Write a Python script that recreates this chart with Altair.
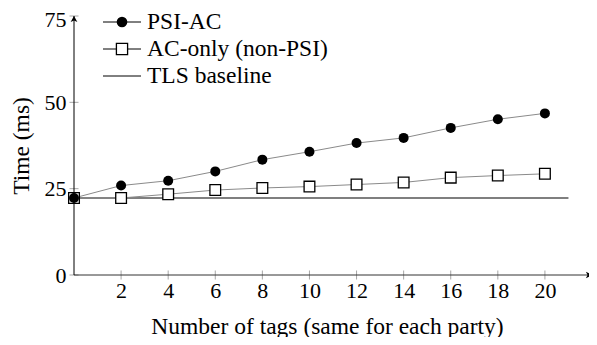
import altair as alt
import pandas as pd

# ---- data ----
tags = [0, 2, 4, 6, 8, 10, 12, 14, 16, 18, 20]
psi_ac = [22.3, 25.9, 27.3, 30.0, 33.4, 35.7, 38.2, 39.7, 42.6, 45.1, 46.8]
ac_only = [22.3, 22.3, 23.4, 24.6, 25.2, 25.6, 26.2, 26.8, 28.2, 28.8, 29.3]
tls_x = [0, 21]
tls_y = [22.3, 22.3]
x_ticks = [2, 4, 6, 8, 10, 12, 14, 16, 18, 20]
y_ticks = [0, 25, 50, 75]
series_names = ["PSI-AC", "AC-only (non-PSI)", "TLS baseline"]
x_title = "Number of tags (same for each party)"
y_title = "Time (ms)"

FONT = "Liberation Serif"
LEGEND_FONT = "Liberation Serif, Times New Roman, serif"
FS_LABEL = 22
FS_TEXT = 23.5
LINE_GRAY = "#8a8a8a"

xs = alt.Scale(domain=[0, 22], range=[0, 518], nice=False, zero=False)
ys = alt.Scale(domain=[0, 75], nice=False, zero=False)

X_AXIS = alt.Axis(values=x_ticks, ticks=False, domain=False, grid=False,
                  labelPadding=5, titlePadding=13, format="d",
                  titleX=253, titleAnchor="middle")
Y_AXIS = alt.Axis(values=y_ticks, ticks=False, domain=False, grid=False,
                  labelPadding=8, titlePadding=11, format="d",
                  labelOffset={"condition": {"test": "datum.value == 75", "value": 3},
                               "value": 0})

psi_df = pd.DataFrame({"tags": tags, "time": psi_ac})
ac_df = pd.DataFrame({"tags": tags, "time": ac_only})
tls_df = pd.DataFrame({"tags": tls_x, "time": tls_y})
xt_df = pd.DataFrame({"tags": x_ticks})
yt_df = pd.DataFrame({"time": y_ticks})


def X(field="tags"):
    return alt.X(f"{field}:Q", scale=xs, axis=X_AXIS, title=x_title)


def Y(field="time"):
    return alt.Y(f"{field}:Q", scale=ys, axis=Y_AXIS, title=y_title)


def XD(v):
    return alt.XDatum(v, scale=xs, axis=X_AXIS, title=x_title)


def YD(v):
    return alt.YDatum(v, scale=ys, axis=Y_AXIS, title=y_title)


one = psi_df.head(1)

# axis lines
x_line = alt.Chart(one).mark_rule(color="#333333", strokeWidth=1).encode(
    x=XD(0), x2=alt.X2Datum(22), y=YD(0))
y_line = alt.Chart(one).mark_rule(color="black", strokeWidth=1).encode(
    x=XD(0), y=YD(0), y2=alt.Y2Datum(75))

# arrow heads
arrow_r = "M0,0 L-1,-0.55 L-0.72,0 L-1,0.55 Z"
arrow_u = "M0,0 L-0.55,1 L0,0.72 L0.55,1 Z"
x_arrow = alt.Chart(one).mark_point(shape=arrow_r, filled=True, size=150,
                                    color="black", opacity=1).encode(x=XD(22), y=YD(0))
y_arrow = alt.Chart(one).mark_point(shape=arrow_u, filled=True, size=150,
                                    color="black", opacity=1).encode(x=XD(0), y=YD(75))

# tick marks crossing the axes
x_tickmarks = alt.Chart(xt_df).mark_tick(orient="vertical", size=9, thickness=1,
                                         color="#808080").encode(x=X(), y=YD(0))
y_tickmarks = alt.Chart(yt_df).mark_tick(orient="horizontal", size=9, thickness=1,
                                         color="#808080").encode(y=Y(), x=XD(0))

# series
tls_line = alt.Chart(tls_df).mark_line(color="black", strokeWidth=1.2).encode(x=X(), y=Y())
ac_line = alt.Chart(ac_df).mark_line(color=LINE_GRAY, strokeWidth=1).encode(x=X(), y=Y())
psi_line = alt.Chart(psi_df).mark_line(color=LINE_GRAY, strokeWidth=1).encode(x=X(), y=Y())
ac_pts = alt.Chart(ac_df).mark_point(shape="square", size=115, filled=False,
                                     fill="white", stroke="black", strokeWidth=1.3,
                                     opacity=1).encode(x=X(), y=Y())
psi_pts = alt.Chart(psi_df).mark_point(shape="circle", size=100, filled=True,
                                       color="black", opacity=1).encode(x=X(), y=Y())

# legend (manual, top-left inside the plot)
legend_layers = []
row_y = [6, 33, 60]
for i, name in enumerate(series_names):
    d = alt.Data(values=[{"label": name}])
    legend_layers.append(alt.Chart(d).mark_rule(color="black", strokeWidth=1).encode(
        x=alt.value(29), x2=alt.value(67), y=alt.value(row_y[i])))
    if i == 0:
        legend_layers.append(alt.Chart(d).mark_point(
            shape="circle", size=113, filled=True, color="black", opacity=1).encode(
            x=alt.value(48), y=alt.value(row_y[i])))
    elif i == 1:
        legend_layers.append(alt.Chart(d).mark_point(
            shape="square", size=125, filled=False, fill="white", stroke="black",
            strokeWidth=1.3, opacity=1).encode(x=alt.value(48), y=alt.value(row_y[i])))
    legend_layers.append(alt.Chart(d).mark_text(
        align="left", baseline="middle", font=LEGEND_FONT, fontSize=FS_TEXT,
        fontStyle="normal", fontWeight="normal", color="black").encode(
        x=alt.value(73), y=alt.value(row_y[i]), text=alt.Text("label:N")))

chart = alt.layer(
    tls_line, ac_line, psi_line, ac_pts, psi_pts,
    x_tickmarks, y_tickmarks, x_line, y_line, x_arrow, y_arrow,
    *legend_layers,
).properties(
    width=515, height=259,
    padding={"left": 66, "top": 8, "right": 0, "bottom": 62},
    autosize=alt.AutoSizeParams(type="none"),
).configure(font=FONT).configure_view(stroke=None).configure_text(
    font=LEGEND_FONT
).configure_axis(
    labelFont=FONT, titleFont=FONT, labelFontSize=FS_LABEL, titleFontSize=FS_TEXT,
    labelColor="black", titleColor="black", titleFontWeight="normal",
)

chart.save("out.html", embed_options={"renderer": "svg", "actions": False})
